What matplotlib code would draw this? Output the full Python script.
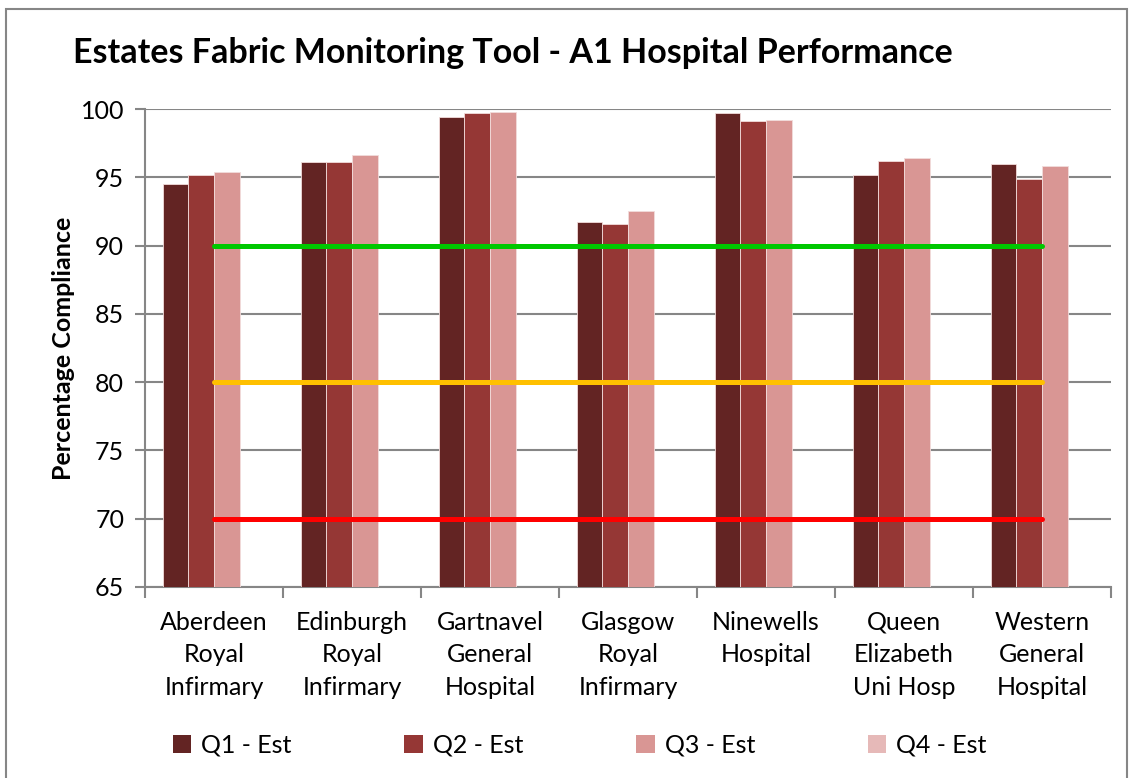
import matplotlib
matplotlib.use("Agg")
import matplotlib.pyplot as plt
import numpy as np
from matplotlib.patches import Rectangle, Patch

hospitals = ["Aberdeen\nRoyal\nInfirmary", "Edinburgh\nRoyal\nInfirmary",
             "Gartnavel\nGeneral\nHospital", "Glasgow\nRoyal\nInfirmary",
             "Ninewells\nHospital", "Queen\nElizabeth\nUni Hosp",
             "Western\nGeneral\nHospital"]
series_names = ["Q1 - Est", "Q2 - Est", "Q3 - Est", "Q4 - Est"]
q1 = [94.5, 96.1, 99.4, 91.7, 99.7, 95.2, 96.0]
q2 = [95.2, 96.1, 99.7, 91.6, 99.1, 96.2, 94.9]
q3 = [95.4, 96.6, 99.8, 92.5, 99.2, 96.4, 95.8]
q4 = [np.nan] * 7
target_green = [90] * 7
target_amber = [80] * 7
target_red = [70] * 7
yticks = [65, 70, 75, 80, 85, 90, 95, 100]

colors = ["#632423", "#953735", "#D99694", "#E6B9B8"]
FONT = ["Lato", "DejaVu Sans"]
plt.rcParams['font.family'] = FONT

W, H = 1130, 778
fig = plt.figure(figsize=(W / 100, H / 100), dpi=100)
ax = fig.add_axes([145 / W, 1 - 587 / H, (1111 - 145) / W, (587 - 109) / H])

x = np.arange(len(hospitals))
bw = 0.185
for k, (vals, c) in enumerate(zip([q1, q2, q3, q4], colors)):
    ax.bar(x + (k - 1.5) * bw, np.nan_to_num(vals, nan=0) - 65, bottom=65,
           width=bw, color=c, edgecolor="#f2dcdb", linewidth=0.6, zorder=3)

ax.plot(x, target_green, color="#00C800", lw=3.6, solid_capstyle="round", zorder=4)
ax.plot(x, target_amber, color="#FFC000", lw=3.6, solid_capstyle="round", zorder=4)
ax.plot(x, target_red, color="#FF0000", lw=3.6, solid_capstyle="round", zorder=4)

ax.set_xlim(-0.5, len(hospitals) - 0.5)
ax.set_ylim(65, 100)
ax.set_yticks(yticks)
ax.set_yticklabels([str(v) for v in yticks], fontsize=18)
ax.yaxis.grid(True, color="#868686", lw=1.5, zorder=0)
ax.set_axisbelow(True)
for s in ["top", "right"]:
    ax.spines[s].set_visible(False)
for s in ["left", "bottom"]:
    ax.spines[s].set_color("#868686")
    ax.spines[s].set_linewidth(1.5)
ax.tick_params(axis="y", length=7, width=1.5, color="#868686", pad=8)
ax.set_xticks(x)
ax.set_xticklabels(hospitals, fontsize=18, linespacing=1.5)
ax.tick_params(axis="x", length=0, pad=17)
ax.set_xticks(np.arange(len(hospitals) + 1) - 0.5, minor=True)
ax.tick_params(axis="x", which="minor", length=8, width=1.5, color="#868686")

ax.set_ylabel("Percentage Compliance", fontsize=18, fontweight="bold", labelpad=4)

fig.text(73 / W, 1 - 53 / H, "Estates Fabric Monitoring Tool - A1 Hospital Performance",
         fontsize=24.5, fontweight="bold", ha="left", va="center")

handles = [Patch(facecolor=c, edgecolor="none") for c in colors]
fig.legend(handles, series_names, loc="center", bbox_to_anchor=(0.513, 1 - 745 / H),
           ncol=4, frameon=False, fontsize=18, handlelength=0.75, handleheight=0.75,
           handletextpad=0.4, columnspacing=4.5)

fig.patches.append(Rectangle((6 / W, -0.1), (1127 - 6) / W, 1.1 - 9 / H, transform=fig.transFigure,
                             fill=False, edgecolor="#868686", lw=1.5))

fig.savefig("out.png", dpi=100)
